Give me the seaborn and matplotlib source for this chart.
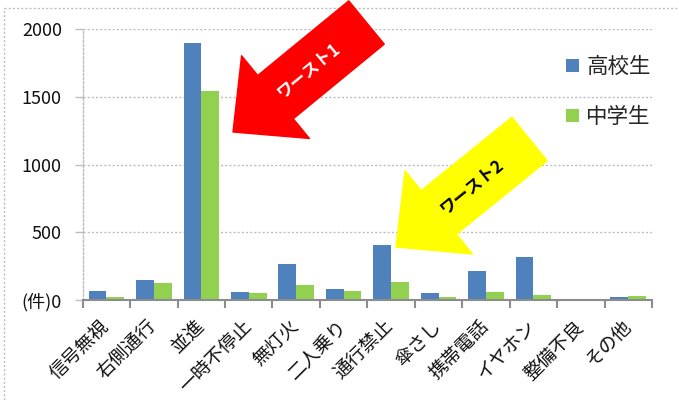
import matplotlib
matplotlib.use("Agg")
import matplotlib.pyplot as plt
import matplotlib.patches as mpatches
from matplotlib.lines import Line2D
from matplotlib.ticker import FixedLocator
import numpy as np
import pandas as pd
import seaborn as sns

# 違反種別ごとの件数
categories = ["信号無視", "右側通行", "並進", "一時不停止", "無灯火", "二人乗り",
              "通行禁止", "傘さし", "携帯電話", "イヤホン", "整備不良", "その他"]
high_school = [66, 145, 1895, 61, 266, 81, 406, 54, 216, 320, 0, 20]
junior_high = [22, 125, 1540, 52, 111, 66, 135, 22, 61, 35, 0, 32]
groups = ["高校生", "中学生"]
colors = ["#4F81BD", "#92D050"]
y_ticks = [0, 500, 1000, 1500, 2000]
y_tick_labels = ["(件)0", "500", "1000", "1500", "2000"]

df = pd.DataFrame({
    "違反": categories * 2,
    "区分": [groups[0]] * len(categories) + [groups[1]] * len(categories),
    "件数": high_school + junior_high,
})

sns.set_style("white")
plt.rcParams["font.family"] = ["Noto Sans CJK JP", "DejaVu Sans"]

W, H = 679, 400
fig = plt.figure(figsize=(W / 100, H / 100), dpi=100)
ax = fig.add_axes([82.7 / W, 100 / H, (652 - 82.7) / W, (300 - 29) / H])

sns.barplot(data=df, x="違反", y="件数", hue="区分", hue_order=groups,
            order=categories, palette=colors, saturation=1, width=0.75,
            gap=0, linewidth=0, legend=False, errorbar=None, ax=ax)

ax.set_xlim(-0.5, len(categories) - 0.5)
ax.set_ylim(0, 2000)
ax.set_xlabel("")
ax.set_ylabel("")

# 目盛と補助線
grid_color = "#BDBDBD"
ax.set_yticks(y_ticks)
ax.set_yticklabels(y_tick_labels, fontsize=13, color="#111111")
ax.yaxis.grid(True, color=grid_color, linestyle=(0, (1.5, 1.5)), linewidth=1)
ax.xaxis.grid(False)
ax.set_axisbelow(True)
ax.tick_params(axis="y", length=6, width=1, color=grid_color, pad=9, left=True)

ax.set_xticks(range(len(categories)))
ax.set_xticklabels(categories, fontsize=13.5, rotation=45, ha="right",
                   va="center", rotation_mode="anchor", color="#111111")
ax.tick_params(axis="x", which="major", length=0, pad=17)
ax.xaxis.set_minor_locator(FixedLocator(np.arange(-0.5, len(categories), 1.0)))
ax.tick_params(axis="x", which="minor", length=6, width=1.5, color="#8C8C8C",
               bottom=True)

for side in ["top", "right"]:
    ax.spines[side].set_visible(False)
ax.spines["bottom"].set_color("#8C8C8C")
ax.spines["bottom"].set_linewidth(1.5)
ax.spines["left"].set_color(grid_color)
ax.spines["left"].set_linestyle((0, (1.5, 1.5)))
ax.spines["left"].set_linewidth(1)

# 凡例
handles = [mpatches.Patch(facecolor=c, edgecolor="none") for c in colors]
ax.legend(handles, groups, loc="upper left", bbox_to_anchor=(566 / W, (H - 56) / H),
          bbox_transform=fig.transFigure, frameon=False, fontsize=15.5,
          handlelength=0.6, handleheight=0.6, handletextpad=0.35,
          labelspacing=1.3, borderpad=0, borderaxespad=0)

# 注目箇所を示す矢印(インチ単位で配置)
def block_arrow(tail, tip, face, label, text_color):
    tx, ty = tail
    hx, hy = tip
    arrow = mpatches.FancyArrow(tx, ty, hx - tx, hy - ty, width=0.56,
                                head_width=1.07, head_length=0.55,
                                length_includes_head=True,
                                transform=fig.dpi_scale_trans,
                                facecolor=face, edgecolor=face,
                                linewidth=1, joinstyle="round", zorder=5)
    fig.patches.append(arrow)
    ang = np.degrees(np.arctan2(ty - hy, tx - hx))
    cx = hx + (tx - hx) * 0.56
    cy = hy + (ty - hy) * 0.56
    fig.text(cx, cy, label, transform=fig.dpi_scale_trans, rotation=ang,
             ha="center", va="center", rotation_mode="anchor", fontsize=12,
             color=text_color, fontweight="bold", zorder=6)

block_arrow((3.665, 3.775), (2.33, 2.68), "#FF0000", "ワースト1", "white")
block_arrow((5.295, 2.61), (3.96, 1.53), "#FFFF00", "ワースト2", "black")

# グラフ全体の枠線
frame_kw = dict(color=grid_color, linestyle=(0, (1.5, 1.5)), linewidth=1,
                transform=fig.transFigure)
fig.lines.append(Line2D([4 / W, 4 / W], [0, (H - 8) / H], **frame_kw))
fig.lines.append(Line2D([4 / W, 1], [(H - 8) / H, (H - 8) / H], **frame_kw))

fig.savefig("out.png", dpi=100)
